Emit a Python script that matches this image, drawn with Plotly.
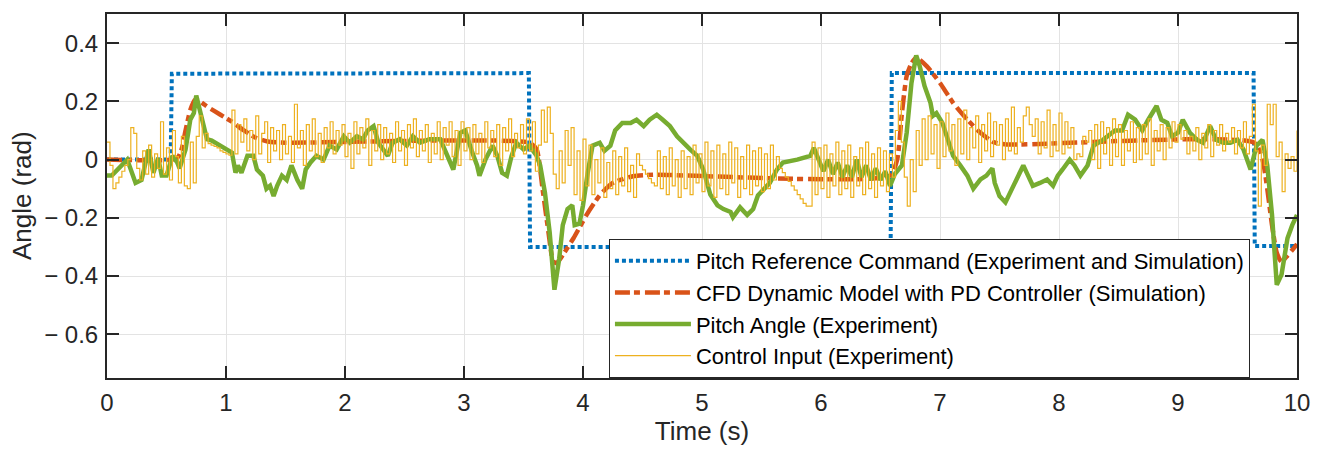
import plotly.graph_objects as go

# ---------------- data ----------------
# Pitch reference command (experiment and simulation)
ref_t = [0.0, 0.535, 0.545, 3.545, 3.555, 6.585, 6.595, 9.635, 9.645, 10.0]
ref_v = [0.0, 0.0, 0.295, 0.297, -0.300, -0.300, 0.297, 0.297, -0.297, -0.297]

# CFD dynamic model with PD controller (simulation)
cfd_t = [0.00, 0.55, 0.60, 0.63, 0.66, 0.70, 0.74, 0.78, 0.85, 0.95, 1.05, 1.15, 1.25, 1.35,
         1.50, 3.55, 3.61, 3.66, 3.71, 3.75, 3.78, 3.81, 3.92, 4.03, 4.14, 4.25, 4.42, 4.59,
         6.58, 6.64, 6.68, 6.72, 6.76, 6.80, 6.89, 7.00, 7.11, 7.23, 7.34, 7.45, 7.56,
         9.64, 9.71, 9.75, 9.79, 9.83, 9.87, 9.92, 10.00]
cfd_v = [0.0, 0.0, 0.01, 0.04, 0.10, 0.17, 0.205, 0.20, 0.18, 0.155, 0.13, 0.10, 0.075, 0.062,
         0.058, 0.058, 0.035, -0.10, -0.25, -0.35, -0.355, -0.34, -0.27, -0.19, -0.123, -0.08, -0.057, -0.052,
         -0.055, 0.0, 0.16, 0.287, 0.33, 0.35, 0.32, 0.263, 0.195, 0.137, 0.092, 0.06, 0.052,
         0.058, 0.0, -0.10, -0.225, -0.32, -0.35, -0.33, -0.29]

# Pitch angle (experiment)
pitch_t = [0.00, 0.04, 0.17, 0.24, 0.29, 0.35, 0.39, 0.43, 0.46, 0.50, 0.55, 0.59, 0.61, 0.66,
           0.70, 0.73, 0.75, 0.78, 0.81, 0.84, 0.88, 1.05, 1.08, 1.10, 1.13, 1.18, 1.23, 1.26,
           1.31, 1.34, 1.37, 1.40, 1.43, 1.47, 1.51, 1.55, 1.60, 1.64, 1.67, 1.71, 1.76, 1.82,
           1.87, 1.93, 1.99, 2.04, 2.10, 2.15, 2.19, 2.24, 2.28, 2.32, 2.36, 2.40, 2.46, 2.52,
           2.57, 2.63, 2.71, 2.80, 2.86, 2.91, 2.97, 3.01, 3.07, 3.11, 3.13, 3.18, 3.24, 3.28,
           3.32, 3.36, 3.40, 3.44, 3.50, 3.55, 3.61, 3.64, 3.68, 3.72, 3.76, 3.80, 3.83, 3.87,
           3.91, 3.93, 3.97, 4.00, 4.04, 4.08, 4.14, 4.18, 4.23, 4.27, 4.33, 4.40, 4.45, 4.51,
           4.56, 4.62, 4.67, 4.73, 4.79, 4.84, 4.90, 4.96, 5.01, 5.07, 5.13, 5.18, 5.24, 5.26,
           5.32, 5.38, 5.43, 5.47, 5.53, 5.57, 5.63, 5.68, 5.80, 5.91, 5.94, 5.98, 6.02, 6.06,
           6.10, 6.14, 6.18, 6.22, 6.26, 6.30, 6.34, 6.38, 6.42, 6.46, 6.50, 6.54, 6.58, 6.62,
           6.68, 6.72, 6.76, 6.80, 6.83, 6.87, 6.92, 6.94, 6.97, 7.02, 7.06, 7.11, 7.17, 7.23,
           7.28, 7.34, 7.39, 7.44, 7.46, 7.50, 7.55, 7.59, 7.65, 7.70, 7.74, 7.78, 7.84, 7.90,
           7.95, 7.99, 8.03, 8.09, 8.13, 8.18, 8.24, 8.29, 8.37, 8.47, 8.53, 8.58, 8.64, 8.70,
           8.75, 8.82, 8.86, 8.91, 8.95, 9.00, 9.04, 9.10, 9.16, 9.21, 9.27, 9.32, 9.38, 9.44,
           9.50, 9.55, 9.61, 9.66, 9.71, 9.75, 9.79, 9.83, 9.87, 9.92, 9.96, 10.00]
pitch_v = [-0.055, -0.055, 0.0, -0.08, -0.07, 0.035, -0.045, 0.005, -0.055, -0.055, 0.013, -0.01, -0.03, 0.035,
           0.137, 0.16, 0.22, 0.17, 0.127, 0.07, 0.065, 0.024, -0.045, -0.02, -0.045, 0.013, 0.013, -0.034,
           -0.055, -0.10, -0.09, -0.125, -0.09, -0.055, -0.07, -0.02, -0.07, -0.10, -0.034, -0.01, 0.013, 0.0,
           0.048, 0.035, 0.08, 0.058, 0.08, 0.07, 0.10, 0.115, 0.058, 0.035, 0.013, 0.058, 0.07, 0.048,
           0.08, 0.058, 0.07, 0.07, 0.013, -0.034, 0.092, 0.10, 0.024, -0.02, -0.055, 0.0, 0.048, 0.013,
           -0.045, -0.055, 0.013, 0.058, 0.035, 0.048, 0.013, -0.02, -0.113, -0.25, -0.447, -0.34, -0.225, -0.17,
           -0.157, -0.225, -0.22, -0.157, -0.045, 0.048, 0.058, 0.03, 0.048, 0.10, 0.126, 0.126, 0.137, 0.115,
           0.137, 0.154, 0.137, 0.115, 0.08, 0.058, 0.035, 0.013, -0.034, -0.12, -0.157, -0.17, -0.18, -0.198,
           -0.164, -0.19, -0.17, -0.123, -0.10, -0.08, -0.034, -0.01, 0.0, 0.013, 0.04, 0.0, -0.04, 0.0,
           -0.05, -0.01, -0.06, -0.02, -0.06, 0.0, -0.06, -0.02, -0.07, -0.03, -0.07, -0.04, -0.09, -0.05,
           -0.02, 0.092, 0.263, 0.358, 0.32, 0.253, 0.195, 0.15, 0.16, 0.126, 0.07, 0.013, -0.02, -0.055,
           -0.10, -0.068, -0.055, -0.03, -0.08, -0.125, -0.147, -0.113, -0.068, -0.02, -0.055, -0.09, -0.08, -0.068,
           -0.09, -0.055, -0.034, 0.0, -0.02, -0.055, -0.02, 0.048, 0.068, 0.10, 0.10, 0.154, 0.137, 0.10,
           0.137, 0.184, 0.137, 0.126, 0.08, 0.092, 0.137, 0.092, 0.068, 0.058, 0.115, 0.068, 0.058, 0.058,
           0.068, 0.035, -0.034, 0.048, 0.068, -0.02, -0.19, -0.43, -0.395, -0.27, -0.225, -0.19]

# Control input (experiment), sampled every 0.025 s from 0 to 10 s
ctrl_dt = 0.025
ctrl_v = [
    0.06, -0.02, -0.10, -0.08, -0.06, -0.04, -0.02, 0.00, 0.11, 0.09,
    -0.03, -0.07, 0.03, -0.05, 0.05, -0.06, 0.02, -0.03, 0.13, -0.05,
    0.04, -0.07, 0.10, 0.01, -0.08, 0.08, -0.09, -0.10, 0.06, -0.08,
    0.08, 0.15, 0.04, 0.09, 0.055, 0.05, 0.045, 0.04, 0.03, 0.025,
    0.02, 0.015, 0.17, 0.02, 0.12, 0.06, 0.14, 0.03, 0.10, 0.00,
    0.15, 0.02, 0.09, 0.13, -0.01, 0.11, 0.03, 0.10, 0.00, 0.12,
    0.02, 0.08, -0.01, 0.19, 0.04, 0.10, -0.02, 0.12, 0.03, 0.14,
    0.01, 0.09, -0.01, 0.11, 0.04, 0.13, 0.02, 0.10, 0.05, 0.12,
    0.01, 0.09, -0.03, 0.13, 0.02, 0.11, 0.04, 0.14, -0.02, 0.10,
    0.03, 0.12, 0.00, 0.11, 0.02, 0.09, -0.01, 0.13, 0.03, 0.10,
    -0.02, 0.12, 0.04, 0.14, 0.01, 0.10, 0.03, 0.12, -0.01, 0.09,
    0.02, 0.13, 0.00, 0.11, 0.05, 0.13, 0.01, 0.10, -0.02, 0.13,
    0.03, 0.11, 0.00, 0.12, 0.02, 0.09, -0.01, 0.13, 0.04, 0.10,
    0.01, 0.12, -0.02, 0.11, 0.03, 0.14, 0.01, 0.09, 0.04, 0.12,
    0.02, 0.14, 0.03, 0.13, -0.04, 0.05, 0.17, 0.06, 0.18, 0.09,
    -0.05, -0.10, 0.03, -0.08, 0.10, -0.02, 0.11, -0.12, 0.03, -0.14,
    0.07, -0.09, 0.05, -0.12, 0.00, -0.08, 0.04, -0.13, -0.01, -0.10,
    0.03, -0.12, 0.01, -0.09, 0.04, -0.11, -0.02, -0.13, 0.02, -0.02,
    -0.035, -0.05, -0.065, -0.08, -0.09, 0.03, -0.10, 0.01, -0.12, 0.04,
    -0.09, 0.00, -0.13, 0.03, -0.10, 0.01, -0.12, 0.05, -0.08, 0.02,
    -0.11, 0.06, -0.09, 0.03, -0.13, 0.05, -0.10, 0.02, -0.12, 0.06,
    -0.08, 0.04, -0.13, 0.01, -0.10, 0.05, -0.12, 0.03, -0.09, 0.04,
    -0.11, 0.02, -0.10, 0.05, -0.07, 0.01, -0.03, -0.045, -0.06, -0.075,
    -0.09, -0.105, -0.12, -0.135, -0.15, -0.16, -0.16, 0.06, -0.12, 0.04,
    -0.10, 0.05, -0.13, 0.02, -0.09, 0.06, -0.12, 0.03, -0.10, 0.05,
    -0.13, 0.01, -0.09, 0.04, -0.12, 0.06, -0.10, 0.02, -0.13, 0.04,
    -0.09, 0.03, -0.11, 0.02, -0.06, 0.10, 0.20, 0.06, -0.06, -0.16,
    0.00, -0.11, 0.10, -0.02, 0.14, 0.00, 0.15, 0.02, 0.12, -0.03,
    0.13, 0.01, 0.16, 0.03, 0.12, -0.02, 0.14, 0.02, 0.17, 0.00,
    0.11, 0.04, 0.15, -0.01, 0.12, 0.03, 0.16, 0.01, 0.13, 0.05,
    0.12, 0.00, 0.14, 0.03, 0.18, 0.02, 0.11, 0.06, 0.15, 0.18,
    0.12, 0.08, 0.14, 0.02, 0.13, 0.04, 0.17, 0.01, 0.12, 0.03,
    0.16, 0.02, 0.13, 0.04, 0.11, 0.00, 0.02, 0.01, 0.08, 0.06,
    0.10, 0.00, 0.12, -0.03, 0.13, 0.02, 0.11, -0.02, 0.14, 0.01,
    0.12, -0.02, 0.10, 0.03, 0.13, -0.01, 0.11, 0.00, 0.12, 0.02,
    0.14, -0.02, 0.10, 0.03, 0.12, 0.00, 0.11, 0.04, 0.13, 0.06,
    0.12, 0.07, 0.10, 0.02, 0.08, 0.03, 0.11, 0.00, 0.09, 0.04,
    0.12, 0.01, 0.10, 0.05, 0.12, 0.03, 0.09, 0.06, 0.11, 0.02,
    0.10, 0.04, 0.13, 0.02, 0.08, 0.19, 0.03, -0.16, 0.05, -0.02,
    0.19, 0.12, 0.19, 0.01, 0.06, -0.11, 0.02, -0.03, 0.01, -0.04,
    0.10,
]
ctrl_t = [round(i * ctrl_dt, 3) for i in range(len(ctrl_v))]

# axis ticks
x_ticks = list(range(0, 11))
y_ticks = [0.4, 0.2, 0.0, -0.2, -0.4, -0.6]
y_ticktext = ["0.4", "0.2", "0", "\u2212 0.2", "\u2212 0.4", "\u2212 0.6"]

names = [
    "Pitch Reference Command (Experiment and Simulation)",
    "CFD Dynamic Model with PD Controller (Simulation)",
    "Pitch Angle (Experiment)",
    "Control Input (Experiment)",
]

# ---------------- figure ----------------
BLUE, ORANGE, GREEN, YELLOW = "#0072BD", "#D95319", "#77AC30", "#EDB120"
FONT = "Liberation Sans, Arial, Helvetica, sans-serif"
AX = "#262626"

fig = go.Figure()
fig.add_trace(go.Scatter(x=ref_t, y=ref_v, mode="lines", name=names[0], legendrank=1,
                         line=dict(color=BLUE, width=4, dash="4px,3px")))
fig.add_trace(go.Scatter(x=cfd_t, y=cfd_v, mode="lines", name=names[1], legendrank=2,
                         line=dict(color=ORANGE, width=4.5, dash="15px,4px,6px,5px", shape="spline", smoothing=0.6)))
fig.add_trace(go.Scatter(x=pitch_t, y=pitch_v, mode="lines", name=names[2], legendrank=3,
                         line=dict(color=GREEN, width=4.5)))
fig.add_trace(go.Scatter(x=ctrl_t, y=ctrl_v, mode="lines", name=names[3], legendrank=4,
                         line=dict(color=YELLOW, width=1.2, shape="hv")))

axis_common = dict(
    showline=True, linecolor=AX, linewidth=2, mirror="ticks",
    ticks="inside", ticklen=12, tickwidth=2, tickcolor=AX,
    showgrid=True, gridcolor="#E3E3E3", gridwidth=1,
    zeroline=False,
    tickfont=dict(family=FONT, size=24, color=AX),
)

fig.update_xaxes(range=[0, 10], tickvals=x_ticks, ticklabelstandoff=2,
                 title=dict(text="Time (s)", font=dict(family=FONT, size=26, color=AX), standoff=6),
                 **axis_common)
fig.update_yaxes(range=[-0.75, 0.5], tickvals=y_ticks, ticktext=y_ticktext, ticklabelstandoff=2,
                 **axis_common)

fig.update_layout(
    width=1322, height=452,
    margin=dict(l=107, r=25, t=12, b=74),
    paper_bgcolor="white", plot_bgcolor="white",
    font=dict(family=FONT, color=AX),
    showlegend=True,
    legend=dict(
        x=0.4218, y=0.0, xanchor="left", yanchor="bottom",
        bgcolor="white", bordercolor=AX, borderwidth=1,
        font=dict(family=FONT, size=22, color="#000000"),
        itemwidth=76, tracegroupgap=0,
    ),
    annotations=[dict(
        text="Angle (rad)", xref="paper", yref="paper",
        x=(22 - 107) / 1190, y=(378 - 195) / 366,
        xanchor="center", yanchor="middle", textangle=-90, showarrow=False,
        font=dict(family=FONT, size=26, color=AX),
    )],
)

fig.write_html("out.html")
